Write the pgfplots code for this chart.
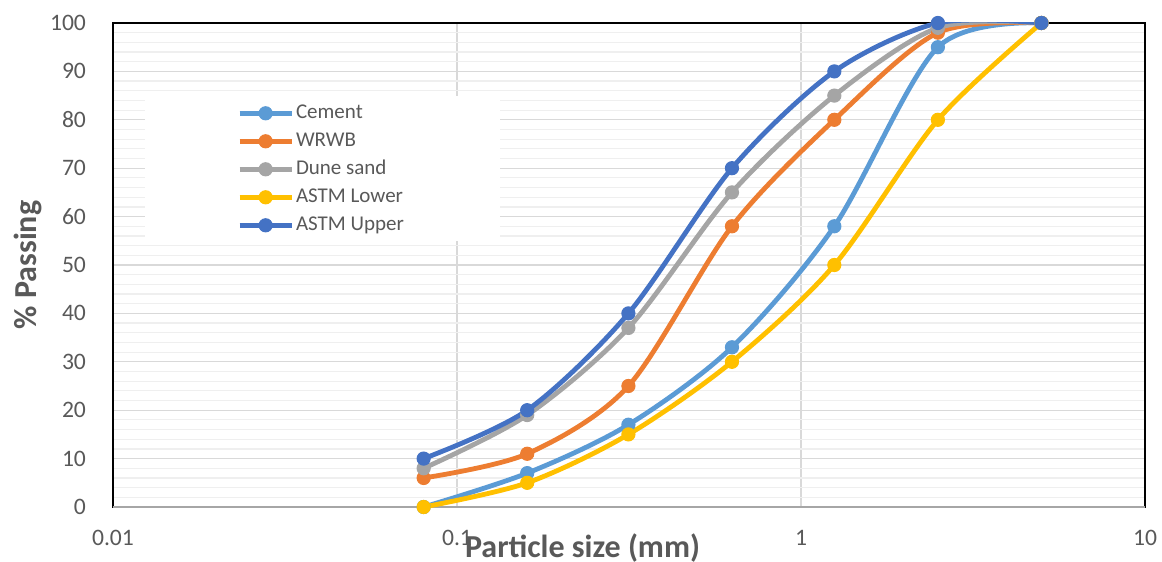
\documentclass[border=0pt]{standalone}
\usepackage{fontspec}
\setmainfont{Carlito}
\usepackage{pgfplots}
\pgfplotsset{compat=1.18}
\usetikzlibrary{calc}
\definecolor{cement}{HTML}{5B9BD5}
\definecolor{wrwb}{HTML}{ED7D31}
\definecolor{dune}{HTML}{A5A5A5}
\definecolor{astmlow}{HTML}{FFC000}
\definecolor{astmup}{HTML}{4472C4}
\definecolor{tickgray}{HTML}{595959}
\definecolor{gridmaj}{HTML}{D9D9D9}
\definecolor{gridmin}{HTML}{EFEFEF}
\begin{document}
\begin{tikzpicture}
\begin{axis}[
    scale only axis,
    width=516pt, height=242pt,
    xmode=log,
    xmin=0.01, xmax=10, ymin=0, ymax=100,
    xtick={0.01,0.1,1,10}, xticklabels={0.01,0.1,1,10},
    ytick={0,10,...,100}, minor y tick num=4,
    major tick length=0pt, minor tick length=0pt,
    xmajorgrids, ymajorgrids, yminorgrids,
    major grid style={draw=gridmaj, line width=0.6pt},
    minor grid style={draw=gridmin, line width=0.6pt},
    axis line style={black, line width=1.4pt},
    /pgf/number format/assume math mode=true,
    tick label style={font=\fontsize{11.8}{14}\selectfont, text=tickgray},
    yticklabel style={xshift=-10pt},
    xticklabel style={yshift=-8pt},
    xlabel={Particle size (mm)},
    ylabel={\% Passing},
    xlabel style={at={(axis description cs:0.455,-0.0847)}, anchor=center,
        font=\bfseries\fontsize{16}{19}\selectfont, text=tickgray},
    ylabel style={at={(axis description cs:-0.0824,0.5)}, anchor=center,
        font=\bfseries\fontsize{16}{19}\selectfont, text=tickgray},
    legend style={at={(axis description cs:0.12,0.838)}, anchor=north west,
        draw=none, fill=none, inner sep=0pt, row sep=2.5pt,
        font=\fontsize{10.5}{12}\selectfont, text=tickgray,
        nodes={inner sep=1pt, text height=7.5pt, text depth=2pt}},
    legend cell align=left,
    legend image code/.code={\draw[mark repeat=2,mark phase=2,#1]
        plot coordinates {(0pt,0pt) (13pt,0pt) (26pt,0pt)};},
    every axis plot/.append style={line width=2.4pt, smooth, mark=*,
        mark size=3.3pt, mark options={line width=0.5pt}},
]
\coordinate (sw) at (rel axis cs:0,0);
\coordinate (ne) at (rel axis cs:1,1);
\fill[white] (axis description cs:0.031,0.55) rectangle (axis description cs:0.375,0.849);
\draw[gray!70, line width=1pt] (rel axis cs:0,0) -- (rel axis cs:1,0);

\addplot[cement] coordinates {
    (0.08,0) (0.16,7) (0.315,17) (0.63,33) (1.25,58) (2.5,95) (5,100)
};
\addplot[wrwb] coordinates {
    (0.08,6) (0.16,11) (0.315,25) (0.63,58) (1.25,80) (2.5,98) (5,100)
};
\addplot[dune] coordinates {
    (0.08,8) (0.16,19) (0.315,37) (0.63,65) (1.25,85) (2.5,99) (5,100)
};
\addplot[astmlow] coordinates {
    (0.08,0) (0.16,5) (0.315,15) (0.63,30) (1.25,50) (2.5,80) (5,100)
};
\addplot[astmup] coordinates {
    (0.08,10) (0.16,20) (0.315,40) (0.63,70) (1.25,90) (2.5,100) (5,100)
};
\legend{Cement, WRWB, Dune sand, ASTM Lower, ASTM Upper}
\end{axis}
\pgfresetboundingbox
\path ($(sw)+(-56.5pt,-27pt)$) rectangle ($(ne)+(8.5pt,11.5pt)$);
\end{tikzpicture}
\end{document}
